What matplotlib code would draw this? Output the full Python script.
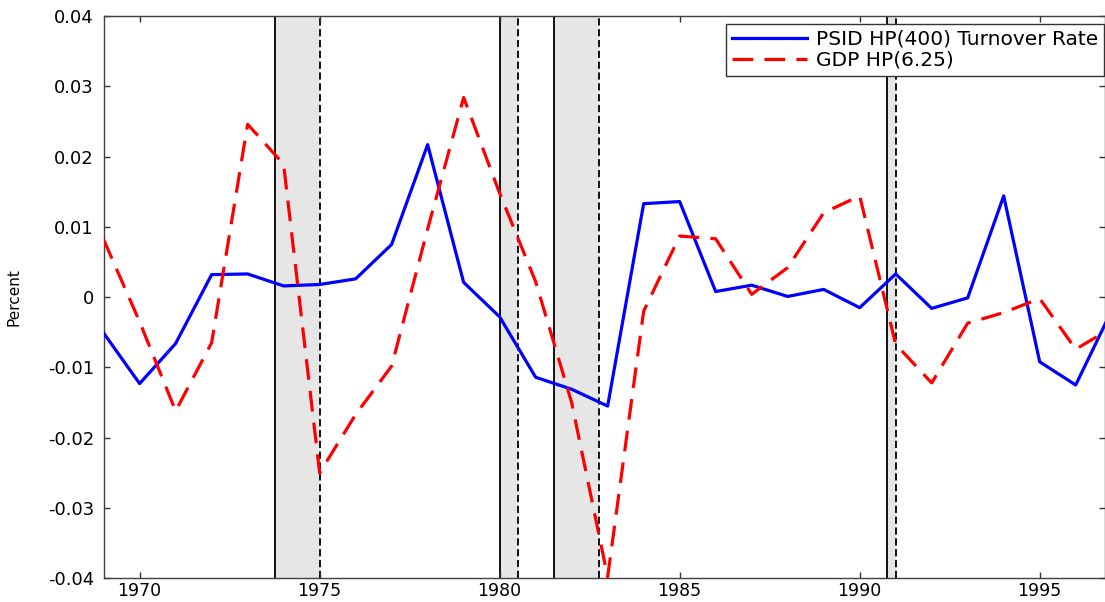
import numpy as np
import matplotlib
matplotlib.use('Agg')
import matplotlib.pyplot as plt

years = list(range(1969, 1998))

turnover = [-0.0051, -0.0123, -0.0066, 0.0032, 0.0033, 0.0016, 0.0018, 0.0026,
            0.0075, 0.0217, 0.0021, -0.0028, -0.0114, -0.0131, -0.0155, 0.0133,
            0.0136, 0.0008, 0.0017, 0.0001, 0.0011, -0.0015, 0.0033, -0.0016,
            -0.0001, 0.0144, -0.0092, -0.0125, -0.0019]

gdp = [0.0082, -0.0035, -0.0162, -0.0065, 0.0246, 0.0189, -0.0250, -0.0167,
       -0.0098, 0.0097, 0.0284, 0.0148, 0.0022, -0.0150, -0.0398, -0.0020,
       0.0087, 0.0083, 0.0004, 0.0042, 0.0120, 0.0144, -0.0067, -0.0122,
       -0.0037, -0.0022, -0.0002, -0.0074, -0.0044]

# recession peaks / troughs (quarterly)
rec_start = [1973.75, 1980.0, 1981.5, 1990.75]
rec_end = [1975.0, 1980.5, 1982.75, 1991.0]

labels = ['PSID HP(400) Turnover Rate', 'GDP HP(6.25)']

plt.rcParams['font.family'] = ['DejaVu Sans']

fig = plt.figure(figsize=(11.05, 6.02), dpi=100)
ax = fig.add_axes([0.09376, 0.03937, 0.90579, 0.93405])

for s, e in zip(rec_start, rec_end):
    ax.axvspan(s, e, color='#e6e6e6', lw=0, zorder=0)
    ax.axvline(s, color='black', lw=1.3, zorder=1)
    ax.axvline(e, color='black', lw=1.3, ls=(0, (4, 2)), zorder=1)

ax.plot(years, turnover, color='#0000ff', lw=2.3, label=labels[0], zorder=3)
line, = ax.plot(years, gdp, color='#ff0000', lw=2.3, label=labels[1], zorder=3)
line.set_dashes([6.5, 3.5])

ax.set_xlim(1969, 1996.8)
ax.set_ylim(-0.04, 0.04)
ax.set_xticks([1970, 1975, 1980, 1985, 1990, 1995])
ax.set_yticks(np.arange(-0.04, 0.041, 0.01))
ax.set_yticklabels(['-0.04', '-0.03', '-0.02', '-0.01', '0', '0.01', '0.02', '0.03', '0.04'])
ax.tick_params(direction='in', length=4, width=1, colors='0.2', labelcolor='black',
               labelsize=13, top=True, right=True, pad=7)
ax.tick_params(axis='x', pad=3, labelsize=12.5)
for sp in ax.spines.values():
    sp.set_color('0.25')
    sp.set_linewidth(1)

ax.set_ylabel('Percent', fontsize=11)
ax.yaxis.set_label_coords(-0.082, 0.5)

leg = ax.legend(loc='upper right', bbox_to_anchor=(0.9995, 0.986), borderaxespad=0,
                fontsize=14.5, frameon=True, fancybox=False, framealpha=1,
                edgecolor='0.2', handlelength=3.7, handletextpad=0.45,
                labelspacing=0.1, borderpad=0.3)
leg.get_frame().set_linewidth(1)

plt.savefig('out.png', dpi=100)
plt.close()
